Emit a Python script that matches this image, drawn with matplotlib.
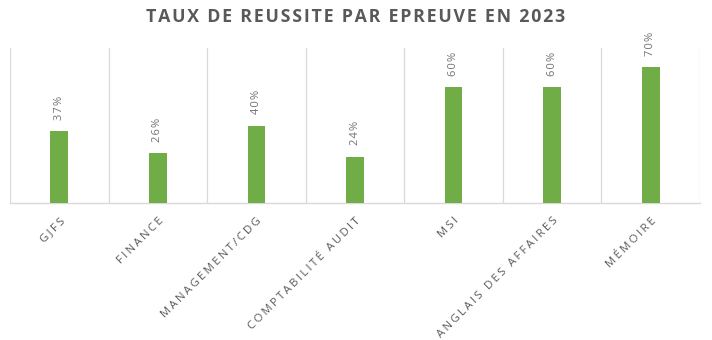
import matplotlib.pyplot as plt
import numpy as np

# Pass rate per exam, 2023 session
epreuves = ['GJFS', 'FINANCE', 'MANAGEMENT/CDG', 'COMPTABILITÉ AUDIT',
            'MSI', 'ANGLAIS DES AFFAIRES', 'MÉMOIRE']
taux = [37, 26, 40, 24, 60, 60, 70]

GREEN = '#70AD47'
GRID = '#D9D9D9'
TEXT = '#595959'

plt.rcParams['font.family'] = ['Open Sans', 'DejaVu Sans']


def spaced(s, n=1):
    # widen letter spacing with hair spaces
    return ('\u200a' * n).join(s)


fig = plt.figure(figsize=(7.12, 3.4), dpi=100)
ax = fig.add_axes([10 / 712, 137 / 340, 690 / 712, 155 / 340])

x = np.arange(len(epreuves))
bars = ax.bar(x, taux, width=0.18, color=GREEN, zorder=3)

for xi, v in zip(x, taux):
    ax.annotate(spaced(f'{v}%'), (xi, v), xytext=(0, 8),
                textcoords='offset points', rotation=90, ha='center',
                va='bottom', fontsize=8, color='#767171')

ax.set_xlim(-0.5, len(epreuves) - 0.5)
ax.set_ylim(0, 80)
ax.set_yticks([])

# category separators
ax.set_xticks(np.arange(-0.5, len(epreuves), 1.0), minor=True)
ax.grid(True, which='minor', axis='x', color=GRID, linewidth=0.9, zorder=0)
ax.tick_params(axis='x', which='minor', length=0)
ax.tick_params(axis='x', which='major', length=0, pad=9)

ax.set_xticks(x)
ax.set_xticklabels([spaced(e, 2) for e in epreuves], rotation=45,
                   ha='right', rotation_mode='anchor', fontsize=8.2,
                   color=TEXT)

for side in ['left', 'right', 'top']:
    ax.spines[side].set_visible(False)
ax.spines['bottom'].set_color(GRID)
ax.spines['bottom'].set_linewidth(1.0)

fig.text(0.5, 0.95, spaced('TAUX DE REUSSITE PAR EPREUVE EN 2023', 1),
         ha='center', va='center', fontsize=12.8, fontweight='bold',
         color=TEXT)

fig.savefig('out.png', dpi=100)
